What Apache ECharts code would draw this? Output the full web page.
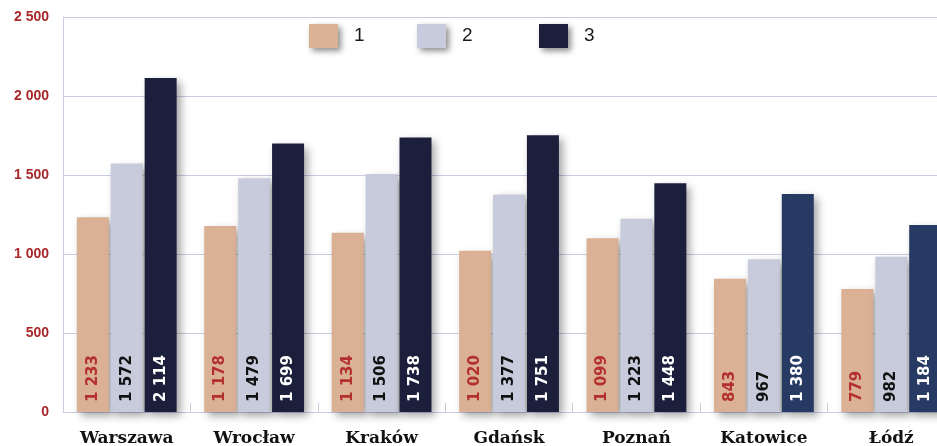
<!DOCTYPE html>
<html>
<head>
<meta charset="utf-8">
<script src="https://cdn.jsdelivr.net/npm/echarts@6/dist/echarts.min.js"></script>
<style>
  html, body { margin: 0; padding: 0; background: #ffffff; overflow: hidden; width: 937px; height: 446px; }
  /* the plot runs on past the right edge of the page, so the last bar is cut off */
  #chart { width: 955px; height: 446px; }
</style>
</head>
<body>
<div id="chart"></div>
<script>
// Cities and the three series shown per city
const cities = ['Warszawa', 'Wrocław', 'Kraków', 'Gdańsk', 'Poznań', 'Katowice', 'Łódź'];
const series1 = [1233, 1178, 1134, 1020, 1099, 843, 779];
const series2 = [1572, 1479, 1506, 1377, 1223, 967, 982];
const series3 = [2114, 1699, 1738, 1751, 1448, 1380, 1184];
const seriesNames = ['1', '2', '3'];
const yTicks = [0, 500, 1000, 1500, 2000, 2500];

// Polish-style thousands grouping: "1 233"
const fmt = v => String(v).replace(/\B(?=(\d{3})+(?!\d))/g, ' ');

const C1 = '#dbb196';
const C2 = '#c8cbdb';
const C3 = '#1b1f3b';
const C3b = '#263a63';
const LINE = '#c9cde2';
const RED = '#a8282a';

const barShadow = {
  shadowBlur: 8,
  shadowOffsetX: 4,
  shadowOffsetY: 4,
  shadowColor: 'rgba(0,0,0,0.35)'
};

function barLabel(color) {
  return {
    show: true,
    position: 'insideBottom',
    distance: 10,
    rotate: 90,
    align: 'left',
    verticalAlign: 'middle',
    fontFamily: 'DejaVu Sans',
    fontWeight: 'bold',
    fontSize: 15,
    color: color,
    formatter: p => fmt(p.value)
  };
}

function legendItem(name, color, left) {
  return {
    left: left,
    top: 19,
    data: [name],
    itemWidth: 29,
    itemHeight: 24,
    icon: 'rect',
    itemStyle: {
      color: color,
      shadowBlur: 6,
      shadowOffsetX: 3,
      shadowOffsetY: 3,
      shadowColor: 'rgba(0,0,0,0.45)'
    },
    textStyle: {
      fontFamily: 'Liberation Sans',
      fontSize: 19,
      color: '#1a1a1a',
      padding: [0, 0, 0, 11]
    },
    selectedMode: false
  };
}

const chart = echarts.init(document.getElementById('chart'), null, { renderer: 'canvas' });

chart.setOption({
  animation: false,
  backgroundColor: '#ffffff',
  legend: [
    legendItem(seriesNames[0], C1, 304),
    legendItem(seriesNames[1], C2, 412),
    legendItem(seriesNames[2], C3, 534)
  ],
  grid: { left: 63, right: 0, top: 17, bottom: 34, containLabel: false, outerBoundsMode: 'none' },
  xAxis: {
    type: 'category',
    data: cities,
    axisLine: { show: true, lineStyle: { color: LINE, width: 1 } },
    axisTick: { show: true, inside: true, length: 9, lineStyle: { color: LINE } },
    axisLabel: {
      margin: 18,
      fontFamily: 'DejaVu Serif',
      fontWeight: 'bold',
      fontSize: 17,
      color: '#111111'
    }
  },
  yAxis: {
    type: 'value',
    min: yTicks[0],
    max: yTicks[yTicks.length - 1],
    interval: 500,
    axisLine: { show: true, lineStyle: { color: LINE, width: 1 } },
    axisTick: { show: false },
    splitLine: { show: true, lineStyle: { color: LINE, width: 1 } },
    axisLabel: {
      margin: 14,
      fontFamily: 'Liberation Sans',
      fontWeight: 'bold',
      fontSize: 14,
      color: RED,
      formatter: v => fmt(v)
    }
  },
  series: [
    {
      name: seriesNames[0],
      type: 'bar',
      barWidth: 32,
      barGap: '6%',
      data: series1,
      itemStyle: Object.assign({ color: C1 }, barShadow),
      label: barLabel('#b3302e')
    },
    {
      name: seriesNames[1],
      type: 'bar',
      barWidth: 32,
      barGap: '6%',
      data: series2,
      itemStyle: Object.assign({ color: C2 }, barShadow),
      label: barLabel('#111111')
    },
    {
      name: seriesNames[2],
      type: 'bar',
      barWidth: 32,
      barGap: '6%',
      data: series3.map((v, i) => (i >= 5 ? { value: v, itemStyle: { color: C3b } } : v)),
      itemStyle: Object.assign({ color: C3 }, barShadow),
      label: barLabel('#ffffff')
    }
  ]
});
</script>
</body>
</html>
